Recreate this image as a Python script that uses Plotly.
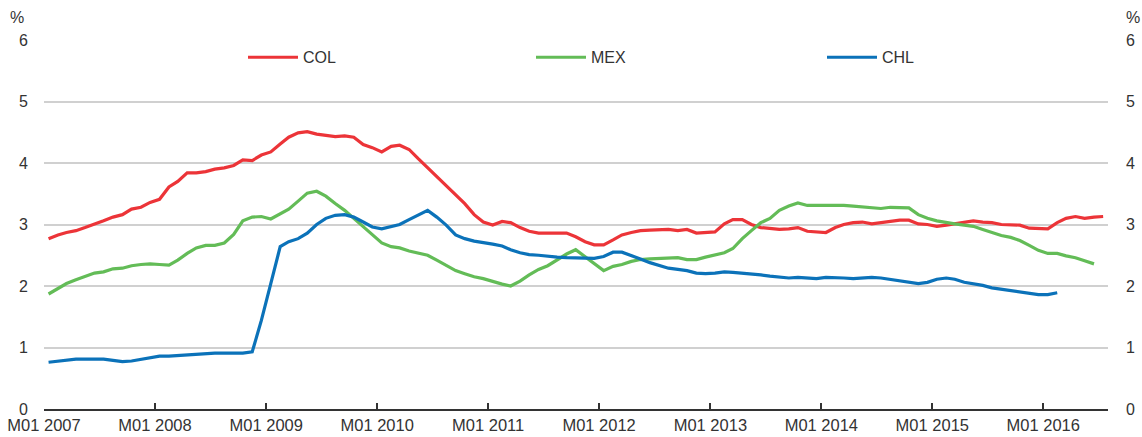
import pandas as pd
import plotly.graph_objects as go

# ---- data (monthly, starting M01 2007) ----
start_month = "2007-01-01"

col_values = [
    2.77, 2.83, 2.87, 2.90, 2.95, 3.00, 3.06, 3.12, 3.16, 3.25, 3.28, 3.36, 3.41, 3.61, 3.70, 3.84, 3.84, 3.86, 3.90,
    3.92, 3.96, 4.05, 4.04, 4.13, 4.18, 4.31, 4.42, 4.49, 4.51, 4.47, 4.45, 4.43, 4.44, 4.42, 4.30, 4.25, 4.18, 4.27,
    4.29, 4.22, 4.07, 3.92, 3.78, 3.64, 3.49, 3.34, 3.16, 3.04, 2.99, 3.05, 3.03, 2.95, 2.89, 2.86, 2.86, 2.86, 2.86,
    2.80, 2.72, 2.67, 2.67, 2.75, 2.83, 2.87, 2.90, 2.91, 2.91, 2.92, 2.90, 2.92, 2.86, 2.87, 2.88, 3.01, 3.08, 3.08, 3.00,
    2.95, 2.93, 2.92, 2.93, 2.95, 2.89, 2.88, 2.87, 2.95, 3.00, 3.03, 3.04, 3.01, 3.03, 3.05, 3.07, 3.07, 3.01, 3.00,
    2.97, 2.99, 3.01, 3.04, 3.06, 3.04, 3.03, 3.00, 2.99, 2.99, 2.94, 2.93, 2.93, 3.03, 3.10, 3.13, 3.10, 3.12, 3.13,
]

mex_values = [
    1.87, 1.96, 2.04, 2.10, 2.15, 2.21, 2.23, 2.28, 2.29, 2.33, 2.35, 2.36, 2.35, 2.34, 2.42, 2.53, 2.62, 2.66, 2.66,
    2.70, 2.84, 3.06, 3.12, 3.13, 3.09, 3.17, 3.25, 3.38, 3.51, 3.54, 3.46, 3.34, 3.23, 3.10, 2.96, 2.83, 2.70, 2.64,
    2.62, 2.57, 2.54, 2.50, 2.42, 2.33, 2.25, 2.20, 2.15, 2.12, 2.07, 2.03, 2.00, 2.08, 2.18, 2.27, 2.33, 2.42, 2.52,
    2.59, 2.47, 2.36, 2.25, 2.32, 2.35, 2.40, 2.43, 2.44, 2.45, 2.46, 2.46, 2.43, 2.43, 2.47, 2.50, 2.54, 2.61, 2.77, 2.90,
    3.03, 3.10, 3.23, 3.30, 3.35, 3.31, 3.31, 3.31, 3.32, 3.31, 3.30, 3.29, 3.27, 3.26, 3.28, 3.28, 3.27, 3.16, 3.10,
    3.06, 3.03, 3.01, 2.99, 2.97, 2.92, 2.87, 2.82, 2.79, 2.74, 2.66, 2.58, 2.53, 2.53, 2.49, 2.46, 2.41, 2.36,
]

chl_values = [
    0.76, 0.78, 0.79, 0.81, 0.81, 0.81, 0.81, 0.79, 0.77, 0.78, 0.81, 0.84, 0.86, 0.86, 0.87, 0.89, 0.90, 0.90, 0.91,
    0.91, 0.91, 0.91, 0.93, 1.44, 2.04, 2.64, 2.72, 2.77, 2.86, 3.00, 3.10, 3.15, 3.16, 3.12, 3.04, 2.96, 2.93, 2.97,
    3.00, 3.08, 3.16, 3.23, 3.12, 2.99, 2.83, 2.77, 2.73, 2.71, 2.68, 2.65, 2.59, 2.54, 2.51, 2.50, 2.48, 2.47, 2.46,
    2.46, 2.45, 2.45, 2.48, 2.55, 2.55, 2.50, 2.44, 2.38, 2.33, 2.29, 2.27, 2.25, 2.21, 2.20, 2.21, 2.23, 2.22, 2.21, 2.20,
    2.18, 2.16, 2.14, 2.13, 2.14, 2.13, 2.12, 2.14, 2.14, 2.13, 2.12, 2.13, 2.14, 2.13, 2.11, 2.09, 2.06, 2.04, 2.06,
    2.11, 2.13, 2.11, 2.06, 2.04, 2.01, 1.97, 1.95, 1.93, 1.90, 1.88, 1.86, 1.86, 1.89,
]

series_names = ["COL", "MEX", "CHL"]
tick_years = list(range(2007, 2017))
tick_labels = [f"M01 {y}" for y in tick_years]

# ---- styling ----
colors = {"COL": "#EC3438", "MEX": "#63BC57", "CHL": "#0B72B9"}
FONT = "Liberation Sans, Arial, sans-serif"
TXT = "#333333"


def month_mid(n):
    # data points sit in the middle of each monthly slot
    return pd.date_range(start_month, periods=n, freq="MS") + pd.Timedelta(days=15)


fig = go.Figure()
legend_ids = ["legend", "legend2", "legend3"]
for name, vals, lg in zip(series_names, [col_values, mex_values, chl_values], legend_ids):
    fig.add_trace(go.Scatter(
        x=month_mid(len(vals)), y=vals, name=name, mode="lines",
        line=dict(color=colors[name], width=3.2), legend=lg,
    ))

# empty helper trace so the right-hand (mirrored) y axis is drawn
fig.add_trace(go.Scatter(x=[], y=[], yaxis="y2", showlegend=False, hoverinfo="skip"))

tickvals = [pd.Timestamp(f"{y}-01-01") for y in tick_years]

legend_common = dict(
    orientation="h", yanchor="middle", y=0.953, xanchor="left",
    font=dict(family=FONT, size=16, color=TXT), bgcolor="rgba(0,0,0,0)",
    itemwidth=50, borderwidth=0,
)

fig.update_layout(
    width=1142, height=437,
    margin=dict(l=44, r=34, t=40, b=28, autoexpand=False),
    paper_bgcolor="white", plot_bgcolor="white",
    font=dict(family=FONT, color=TXT),
    showlegend=True,
    legend=dict(legend_common, x=(243 - 44) / 1064),
    legend2=dict(legend_common, x=(531 - 44) / 1064),
    legend3=dict(legend_common, x=(822 - 44) / 1064),
    xaxis=dict(
        type="date", range=["2007-01-01", "2016-08-01"],
        tickmode="array", tickvals=tickvals, ticktext=tick_labels,
        ticks="inside", ticklen=6, tickwidth=1.5, tickcolor="#333333",
        showline=True, linecolor="#333333", linewidth=2,
        showgrid=False, zeroline=False,
        tickfont=dict(family=FONT, size=16.5, color=TXT),
    ),
    yaxis=dict(
        range=[0, 6], dtick=1, tick0=0,
        showgrid=True, gridcolor="#d0d0d0", gridwidth=1.5,
        zeroline=False, showline=False, ticks="",
        tickfont=dict(family=FONT, size=16, color=TXT),
        ticklabelstandoff=15,
    ),
    yaxis2=dict(
        overlaying="y", side="right", anchor="x",
        range=[0, 6], dtick=1, tick0=0,
        showgrid=False, zeroline=False, showline=False, ticks="",
        tickfont=dict(family=FONT, size=16, color=TXT),
        ticklabelstandoff=17,
    ),
    annotations=[
        dict(text="%", xref="paper", yref="paper", x=(17 - 44) / 1064, y=1 + (40 - 18) / 369,
             showarrow=False, xanchor="center", yanchor="middle",
             font=dict(family=FONT, size=16, color=TXT)),
        dict(text="%", xref="paper", yref="paper", x=(1133 - 44) / 1064, y=1 + (40 - 18) / 369,
             showarrow=False, xanchor="center", yanchor="middle",
             font=dict(family=FONT, size=16, color=TXT)),
    ],
)

fig.write_html("out.html", config={"displayModeBar": False},
               post_script="document.body.style.margin='0';")
